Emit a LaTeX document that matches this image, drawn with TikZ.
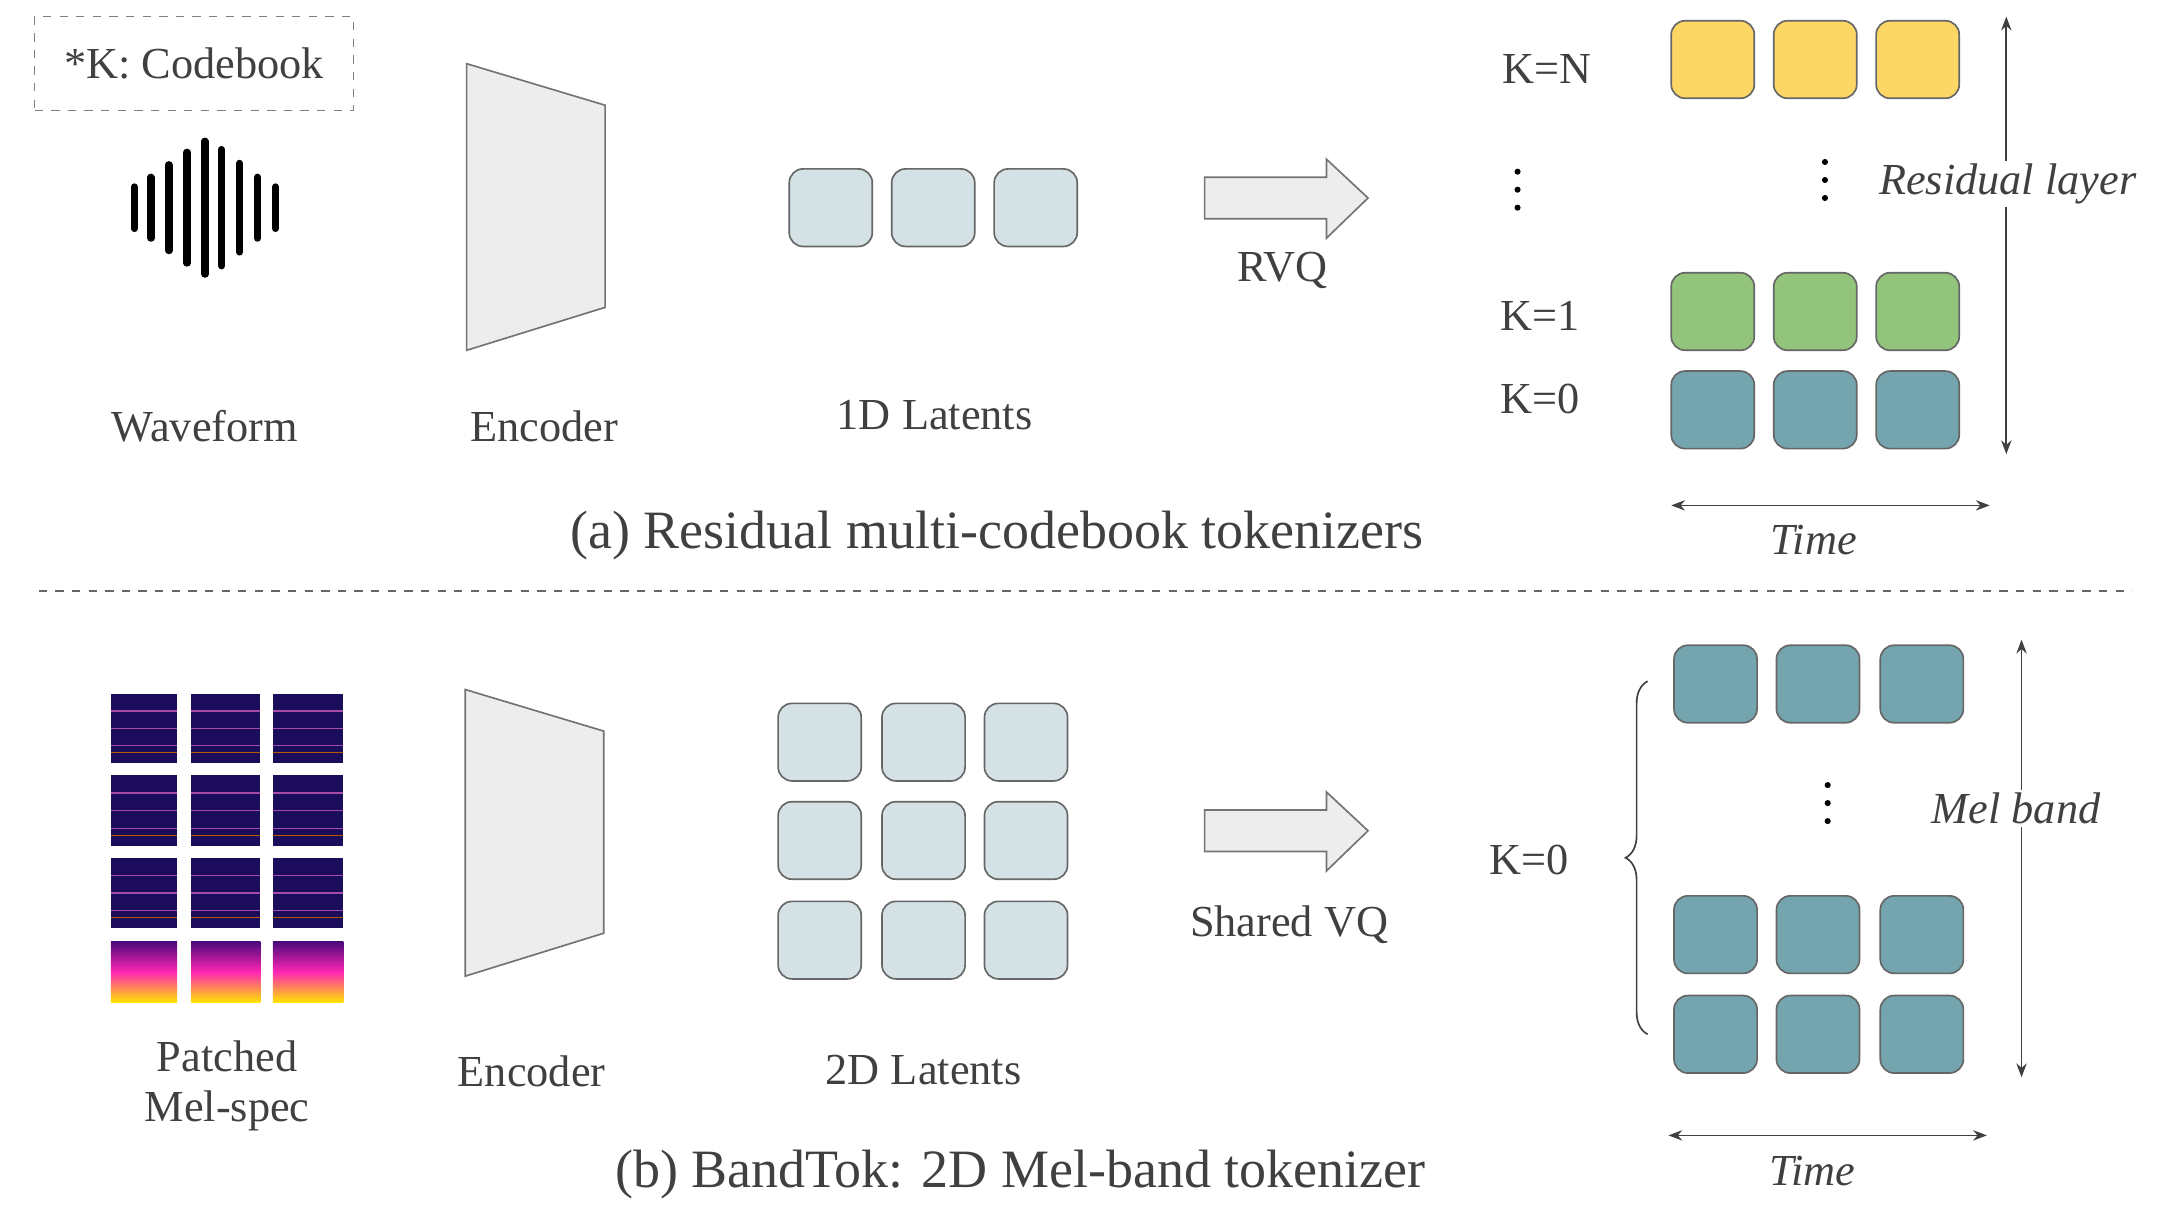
\documentclass[tikz,border=0pt]{standalone}
\usepackage{fontspec}
\setmainfont{Liberation Serif}
\usetikzlibrary{decorations.pathreplacing,arrows.meta}
\definecolor{lat}{HTML}{D4E2E6}
\definecolor{yel}{HTML}{FDD766}
\definecolor{grn}{HTML}{92C47C}
\definecolor{teal}{HTML}{74A4AE}
\definecolor{spec}{HTML}{1C0C5C}
\definecolor{txt}{HTML}{404040}
\tikzset{
 box/.style={draw=black!60,line width=0.6pt,rounded corners=5pt,minimum width=30pt,minimum height=28pt,inner sep=0pt},
 lbl/.style={font=\fontsize{16}{18}\selectfont,text=txt},
 ttl/.style={font=\fontsize{19.5}{21}\selectfont,text=txt},
 enc/.style={draw=black!55,fill=black!7,line width=0.6pt},
 big/.style={draw=black!55,fill=black!7,line width=0.6pt},
 dbl/.style={{Stealth[length=5pt]}-{Stealth[length=5pt]},line width=0.6pt,black!75},
}
\begin{document}
\begin{tikzpicture}[x=0.5pt,y=-0.5pt]
\useasboundingbox (0,0) rectangle (1560,877);
% (a)
\node[draw=black!50,dashed,minimum width=115pt,minimum height=34pt,lbl] (cb) at (140,46) {*K: Codebook};
\foreach \x/\h [count=\i] in {97/30,109/44,122/62,135/80,148/96,160/84,173/64,186/44,199/30}
  \draw[line width=2.6pt,line cap=round] (\x,150-\h/2) -- (\x,150+\h/2);
\node[lbl] (wf) at (148,308) {Waveform};
\draw[enc] (337,46) -- (437,76) -- (437,222) -- (337,253) -- cycle;
\node[lbl] (enca) at (393,308) {Encoder};
\foreach \x [count=\i] in {600,674,748} \node[box,fill=lat] (la\i) at (\x,150) {};
\node[lbl] (l1) at (675,300) {1D Latents};
\draw[big] (870,128) -- (958,128) -- (958,115) -- (988,143) -- (958,172) -- (958,158) -- (870,158) -- cycle;
\node[lbl] (rvq) at (926,195) {RVQ};
\node[lbl] (kn) at (1117,50) {K=N};
\node[lbl] (k1) at (1112,228) {K=1};
\node[lbl] (k0) at (1112,288) {K=0};
\foreach \y in {124,137,150} \fill (1096,\y) circle (2.2);
\foreach \y in {117,130,143} \fill (1318,\y) circle (2.2);
\foreach \x [count=\i] in {1237,1311,1385}{
  \node[box,fill=yel] (y\i) at (\x,43) {};
  \node[box,fill=grn] (g\i) at (\x,225) {};
  \node[box,fill=teal] (t\i) at (\x,296) {};}
\coordinate (ra1) at (1449,328); \coordinate (ra2) at (1449,12);
\draw[dbl] (ra1) -- (ra2);
\node[lbl,fill=white,inner sep=1pt,font=\fontsize{16}{18}\selectfont\itshape] (rl) at (1450,133) {Residual layer};
\coordinate (ta1) at (1207,365); \coordinate (ta2) at (1437,365);
\draw[dbl] (ta1) -- (ta2);
\node[lbl,font=\fontsize{16}{18}\selectfont\itshape] (tm1) at (1310,390) {Time};
\node[ttl] (ta) at (720,387) {(a) Residual multi-codebook tokenizers};
\draw[dashed,black!60,line width=0.6pt] (28,427) -- (1540,427);
% (b)
\foreach \x/\w [count=\i] in {80/48,138/50,197/51}{
  \foreach \y/\h [count=\j] in {501/50,560/51,620/50}{
    \fill[spec] (\x,\y) rectangle ++(\w,\h);
    \foreach \k in {0.25,0.5,0.75} \draw[violet!70,line width=0.5pt] (\x,\y+\k*\h) -- ++(\w,0);
    \draw[orange!70!black,line width=0.5pt] (\x,\y+0.85*\h) -- ++(\w,0);}
  \shade[top color=spec!80!magenta,bottom color=yellow!80!orange,middle color=magenta!70!orange] (\x,680) rectangle ++(\w,44);
}
\node[lbl,align=center] (pm) at (164,784) {Patched\\Mel-spec};
\draw[enc] (336,498) -- (436,528) -- (436,674) -- (336,705) -- cycle;
\node[lbl] (encb) at (384,774) {Encoder};
\foreach \x [count=\i] in {592,667,741}
  \foreach \y [count=\j] in {536,607,679}
    \node[box,fill=lat] (lb\i\j) at (\x,\y) {};
\node[lbl] (l2) at (667,773) {2D Latents};
\draw[big] (870,585) -- (958,585) -- (958,572) -- (988,600) -- (958,629) -- (958,615) -- (870,615) -- cycle;
\node[lbl] (svq) at (931,668) {Shared VQ};
\node[lbl] (kb) at (1104,621) {K=0};
\coordinate (b1) at (1190,747); \coordinate (b2) at (1190,492);
\draw[decorate,decoration={brace,amplitude=8pt},line width=0.6pt,black!75] (b1) -- (b2);
\foreach \y in {567,580,593} \fill (1320,\y) circle (2.2);
\foreach \x [count=\i] in {1239,1313,1388}{
  \node[box,fill=teal] (m\i a) at (\x,494) {};
  \node[box,fill=teal] (m\i b) at (\x,675) {};
  \node[box,fill=teal] (m\i c) at (\x,747) {};}
\coordinate (ma1) at (1460,462); \coordinate (ma2) at (1460,778);
\draw[dbl] (ma1) -- (ma2);
\node[lbl,fill=white,inner sep=1pt,font=\fontsize{16}{18}\selectfont\itshape] (mb) at (1456,584) {Mel band};
\coordinate (tb1) at (1205,820); \coordinate (tb2) at (1435,820);
\draw[dbl] (tb1) -- (tb2);
\node[lbl,font=\fontsize{16}{18}\selectfont\itshape] (tm2) at (1309,846) {Time};
\node[ttl] (tb) at (737,848) {(b) BandTok: 2D Mel-band tokenizer};
\end{tikzpicture}
\end{document}
